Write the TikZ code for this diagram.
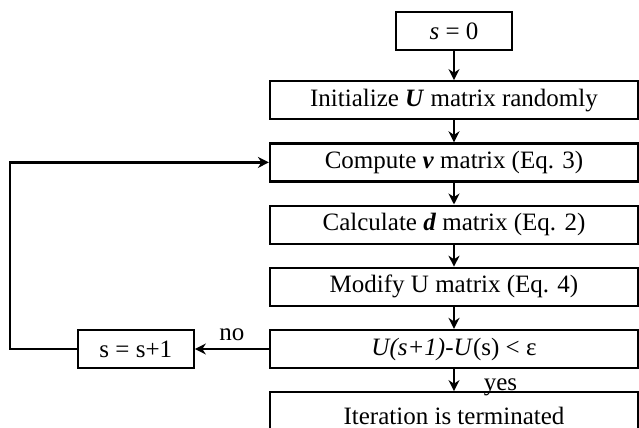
\documentclass[tikz,border=0pt]{standalone}
\usepackage{fontspec}
\setmainfont{Liberation Serif}
\usetikzlibrary{positioning, arrows.meta}

\begin{document}
\begin{tikzpicture}[
		> = {Stealth[length=5.5pt, width=5.5pt]}, % arrow head style
		line width = 1.1pt, % line style
		node distance = 11pt, % gap between boxes
		font=\fontsize{12.5}{14}\selectfont
		]
		
		\tikzstyle{block}=[
		rectangle,
		draw = black,
		minimum width = 184pt,
		minimum height = 19pt,
		inner sep = 2pt
		]
		\tikzstyle{counter}=[block, minimum width = 58pt]
		
		\useasboundingbox (0,0) rectangle (319.5pt,-214pt);
		
		\node[counter] (s0) at (227pt,-15.5pt) {\textit{s} = 0};
		\node[block] (init) [below=14.5pt of s0] {Initialize \textbf{\textit{U}} matrix randomly};
		\node[block] (compute) [below=of init] {Compute \textbf{\textit{v}} matrix (Eq. 3)};
		\node[block] (calc) [below=of compute] {Calculate \textbf{\textit{d}} matrix (Eq. 2)};
		\node[block] (modify) [below=of calc] {Modify U matrix (Eq. 4)};
		\node[block] (check) [below=of modify] {\textit{U(s+1)-U}(s) < ε};
		\node[block, minimum height=24pt, text height=10.5pt, text depth=2pt] (stop) [below=of check] {Iteration is terminated};
		
		\node[counter] (inc) [left=37pt of check] {s = s+1};
		\coordinate (back) at ([xshift=-33.5pt]inc.west);
		
		\path[->] 	
		(s0) 	edge [] (init)
		(init) 	edge [] (compute)
		(compute) edge [] (calc)
		(calc) 	edge [] (modify)
		(modify) edge [] (check)
		(check) edge [] node[pos=0.85, right=11pt] {yes} (stop)
				edge [] node[above] {no} (inc)
		;
		\draw[->] (inc.west) -- (back) |- (compute.west);
	\end{tikzpicture}
\end{document}
